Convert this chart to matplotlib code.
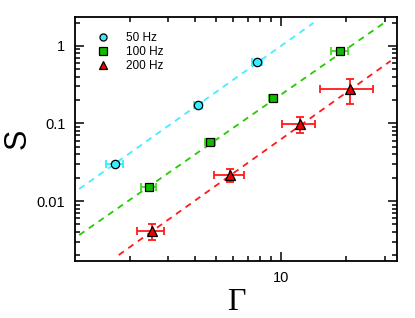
#!/usr/bin/env python3
"""Scaling of S with Gamma for three driving frequencies (log-log)."""

import matplotlib
matplotlib.use('Agg')
import matplotlib.pyplot as plt
from matplotlib.ticker import FixedLocator, FixedFormatter, NullFormatter

# data
gamma_50 = [1.71, 4.13, 7.74]
s_50 = [0.030, 0.173, 0.62]
gamma_err_50 = [0.16, 0.18, 0.40]
s_err_50 = [0.0, 0.0, 0.0]

gamma_100 = [2.45, 4.69, 9.18, 18.6]
s_100 = [0.0152, 0.0577, 0.213, 0.86]
gamma_err_100 = [0.19, 0.25, 0.40, 1.7]
s_err_100 = [0.0008, 0.003, 0.01, 0.05]

gamma_200 = [2.53, 5.81, 12.2, 20.8]
s_200 = [0.0041, 0.0217, 0.0986, 0.279]
gamma_err_200 = [0.36, 0.9, 2.1, 5.7]
s_err_200 = [0.001, 0.004, 0.023, 0.10]

# dashed guide lines (end points)
fit_x_50 = [1.17, 14.1]
fit_y_50 = [0.0143, 1.98]
fit_x_100 = [1.17, 30.3]
fit_y_100 = [0.00364, 2.04]
fit_x_200 = [1.78, 32.0]
fit_y_200 = [0.00201, 0.640]

labels = ['50 Hz', '100 Hz', '200 Hz']

plt.rcParams['font.family'] = ['Liberation Sans', 'DejaVu Sans']

fig = plt.figure(figsize=(4.15, 3.18), dpi=100)
ax = fig.add_axes([0.181, 0.179, 0.776, 0.768])

dash = (0, (3.5, 3))
ax.plot(fit_x_50, fit_y_50, color='#44eeff', lw=1.3, ls=dash, zorder=1)
ax.plot(fit_x_100, fit_y_100, color='#22cc00', lw=1.3, ls=dash, zorder=1)
ax.plot(fit_x_200, fit_y_200, color='#ff1a1a', lw=1.3, ls=dash, zorder=1)

series = [
    (gamma_50, s_50, gamma_err_50, s_err_50, 'o', '#33eeff', '#33eeff', 6),
    (gamma_100, s_100, gamma_err_100, s_err_100, 's', '#11bb00', '#44dd22', 6),
    (gamma_200, s_200, gamma_err_200, s_err_200, '^', '#ee0000', '#ff1a1a', 7),
]
for (gx, sy, gxe, sye, mk, fc, ec, ms), lab in zip(series, labels):
    ax.errorbar(gx, sy, xerr=gxe, yerr=sye, fmt='none', ecolor=ec,
                elinewidth=1.3, capsize=3.2, capthick=1.3, zorder=2)
    ax.plot(gx, sy, ls='none', marker=mk, ms=ms, mfc=fc, mec='black',
            mew=0.9, label=lab, zorder=3)

ax.set_xscale('log')
ax.set_yscale('log')
ax.set_xlim(1.12, 34.3)
ax.set_ylim(0.00168, 2.37)

ax.xaxis.set_major_locator(FixedLocator([10]))
ax.xaxis.set_major_formatter(FixedFormatter(['10']))
ax.xaxis.set_minor_locator(FixedLocator([2, 3, 4, 5, 6, 7, 8, 9, 20, 30]))
ax.xaxis.set_minor_formatter(NullFormatter())

ax.yaxis.set_major_locator(FixedLocator([0.01, 0.1, 1]))
ax.yaxis.set_major_formatter(FixedFormatter(['0.01', '0.1', '1']))
ymin = [m * d for d in (0.001, 0.01, 0.1, 1) for m in range(2, 10)]
ax.yaxis.set_minor_locator(FixedLocator(ymin))
ax.yaxis.set_minor_formatter(NullFormatter())

ax.tick_params(which='both', direction='in', top=True, right=True,
               width=1.1, labelsize=10.5, pad=7)
ax.tick_params(which='major', length=6.5)
ax.tick_params(which='minor', length=3.8)
for sp in ax.spines.values():
    sp.set_linewidth(1.3)

ax.set_xlabel('Γ', fontsize=23, family=['Liberation Serif', 'DejaVu Serif'],
              labelpad=2)
ax.set_ylabel('S', fontsize=22, labelpad=3)

ax.legend(loc='upper left', bbox_to_anchor=(0.04, 0.97), frameon=False,
          fontsize=8.5, handletextpad=1.3, labelspacing=0.15,
          markerscale=0.85, handlelength=1.2, borderpad=0.2)

plt.savefig('out.png', dpi=100)
plt.close()
